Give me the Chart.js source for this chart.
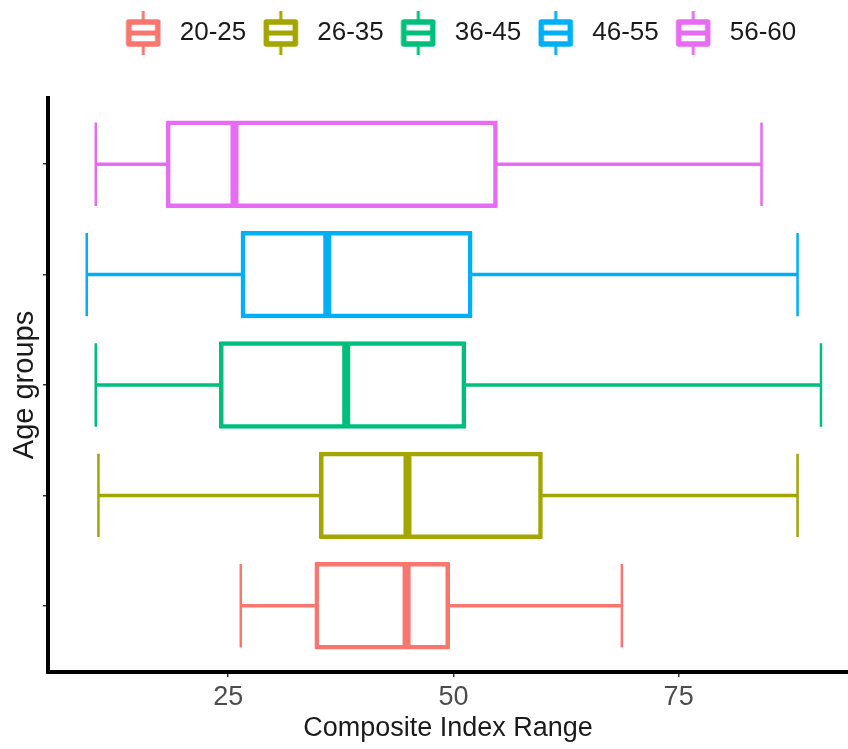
<!DOCTYPE html>
<html><head><meta charset="utf-8">
<script src="https://cdn.jsdelivr.net/npm/chart.js@4"></script>
<style>html,body{margin:0;padding:0;background:#fff}canvas{display:block}</style>
</head><body>
<canvas id="c" width="848" height="749"></canvas>
<script>
// ---- data ----
const groups = ['20-25', '26-35', '36-45', '46-55', '56-60'];
const whiskerLow = [26.4, 10.6, 10.3, 9.3, 10.3];
const q1 = [34.8, 35.3, 24.2, 26.6, 18.3];
const median = [44.8, 44.9, 38.1, 36.0, 25.7];
const q3 = [49.4, 59.7, 51.2, 51.9, 54.7];
const whiskerHigh = [68.7, 88.2, 90.8, 88.2, 84.2];
const colors = ['#F8766D', '#A3A500', '#00BF7D', '#00B0F6', '#E76BF3'];
const xTicks = [25, 50, 75];
const yTicks = [0, 1, 2, 3, 4];
const xTitle = 'Composite Index Range';
const yTitle = 'Age groups';

// ---- style ----
const FONT = "'Liberation Sans', Arial, Helvetica, sans-serif";
const WHISKER_LW = 3.5, CAP_LW = 2.5, MEDIAN_LW = 8;
const BAR_BORDER = 0.5, BAR_INFLATE = 2; // visible stroke = border + 2*inflate = 4.5, centred on the value
const LEGEND_SHIFT = 34;

function makeGlyph(color) {
  const c = document.createElement('canvas');
  c.width = 36; c.height = 46;
  const g = c.getContext('2d');
  g.strokeStyle = color; g.lineJoin = 'round';
  g.lineWidth = 3;
  g.beginPath(); g.moveTo(18, 1); g.lineTo(18, 12); g.moveTo(18, 34); g.lineTo(18, 45); g.stroke();
  g.lineWidth = 5.5;
  g.fillStyle = '#fff';
  g.beginPath(); g.rect(3.5, 12, 29, 22); g.fill(); g.stroke();
  g.lineWidth = 5;
  g.beginPath(); g.moveTo(3.5, 23); g.lineTo(32.5, 23); g.stroke();
  return c;
}
const glyphs = colors.map(makeGlyph);

const boxPlugin = {
  id: 'boxParts',
  beforeLayout(chart) {
    const lg = chart.legend;
    if (lg && !lg._wrappedFit) {
      const orig = lg.fit.bind(lg);
      lg.fit = function () { orig(); this.height = 89; };
      lg._wrappedFit = true;
    }
  },
  afterLayout(chart) {
    const lg = chart.legend;
    if (lg) { lg.left += LEGEND_SHIFT; lg.right += LEGEND_SHIFT; }
  },
  beforeDatasetsDraw(chart) {
    const ctx = chart.ctx, xs = chart.scales.x;
    const meta = chart.getDatasetMeta(0);
    ctx.save();
    meta.data.forEach((bar, i) => {
      const y = bar.y, half = bar.height / 2;
      const xl = xs.getPixelForValue(whiskerLow[i]), xh = xs.getPixelForValue(whiskerHigh[i]);
      ctx.strokeStyle = colors[i];
      ctx.lineWidth = WHISKER_LW;
      ctx.beginPath();
      ctx.moveTo(xl, y); ctx.lineTo(xs.getPixelForValue(q1[i]), y);
      ctx.moveTo(xs.getPixelForValue(q3[i]), y); ctx.lineTo(xh, y);
      ctx.stroke();
      ctx.lineWidth = CAP_LW;
      ctx.beginPath();
      ctx.moveTo(xl, y - half); ctx.lineTo(xl, y + half);
      ctx.moveTo(xh, y - half); ctx.lineTo(xh, y + half);
      ctx.stroke();
    });
    ctx.restore();
  },
  afterDatasetsDraw(chart) {
    const ctx = chart.ctx, xs = chart.scales.x;
    const meta = chart.getDatasetMeta(0);
    ctx.save();
    meta.data.forEach((bar, i) => {
      const y = bar.y, half = bar.height / 2;
      const xm = xs.getPixelForValue(median[i]);
      ctx.strokeStyle = colors[i];
      ctx.lineWidth = MEDIAN_LW;
      ctx.beginPath(); ctx.moveTo(xm, y - half); ctx.lineTo(xm, y + half); ctx.stroke();
    });
    ctx.restore();
  }
};

new Chart(document.getElementById('c'), {
  type: 'bar',
  data: {
    labels: groups,
    datasets: [{
      label: 'box',
      data: groups.map((g, i) => ({ x: [q1[i], q3[i]], y: i })),
      backgroundColor: 'rgba(255,255,255,0)',
      borderColor: colors,
      borderWidth: BAR_BORDER,
      inflateAmount: BAR_INFLATE,
      borderSkipped: false,
      borderRadius: 1,
      categoryPercentage: 1,
      barPercentage: 0.755
    }]
  },
  plugins: [boxPlugin],
  options: {
    indexAxis: 'y',
    responsive: false,
    animation: false,
    devicePixelRatio: 1,
    layout: { padding: { top: 9, left: 0, right: 0, bottom: 0 } },
    plugins: {
      tooltip: { enabled: false },
      legend: {
        position: 'top',
        onClick: null,
        labels: {
          usePointStyle: true,
          pointStyleWidth: 47,
          padding: 11,
          color: '#1a1a1a',
          font: { family: FONT, size: 26 },
          generateLabels: () => groups.map((g, i) => ({
            text: g, pointStyle: glyphs[i], fillStyle: colors[i], strokeStyle: colors[i],
            lineWidth: 0, hidden: false, datasetIndex: 0, index: i, fontColor: '#1a1a1a'
          }))
        }
      }
    },
    scales: {
      x: {
        type: 'linear',
        min: 5,
        max: 93.8,
        offset: false,
        afterBuildTicks: (s) => { s.ticks = xTicks.map(v => ({ value: v })); },
        afterFit: (s) => { s.height = 77; },
        grid: { display: true, offset: false, drawOnChartArea: false, drawTicks: true, tickLength: 5, color: '#333333', lineWidth: 1.5 },
        border: { display: true, color: '#000000', width: 4 },
        ticks: { padding: 4, color: '#4d4d4d', font: { family: FONT, size: 27 } },
        title: { display: true, text: xTitle, color: '#1a1a1a', font: { family: FONT, size: 27 }, padding: { top: 0, bottom: 4 } }
      },
      y: {
        type: 'linear',
        min: -0.6,
        max: 4.6,
        offset: false,
        afterBuildTicks: (s) => { s.ticks = yTicks.map(v => ({ value: v })); },
        afterFit: (s) => { s.width = 48; },
        grid: { display: true, offset: false, drawOnChartArea: false, drawTicks: true, tickLength: 5, color: '#333333', lineWidth: 1.5 },
        border: { display: true, color: '#000000', width: 4 },
        ticks: { display: false },
        title: { display: true, text: yTitle, color: '#1a1a1a', font: { family: FONT, size: 29 }, padding: { top: 8, bottom: 0 } }
      }
    }
  }
});
</script>
</body></html>
